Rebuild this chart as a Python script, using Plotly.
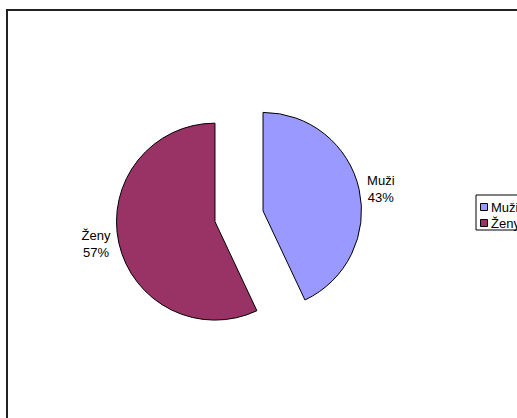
import plotly.graph_objects as go

labels = ["Muži", "Ženy"]
values = [43, 57]
colors = ["#9999FF", "#993366"]

W, H = 517, 418

def px_x(x):
    return x / W

def px_y(y):
    return (H - y) / H

fig = go.Figure(
    go.Pie(
        labels=labels,
        values=values,
        sort=False,
        direction="clockwise",
        rotation=0,
        pull=[0.25, 0.25],
        marker=dict(colors=colors, line=dict(color="black", width=1)),
        textposition="outside",
        texttemplate="%{label}<br>%{percent:.0%}",
        textfont=dict(family="Liberation Sans, Arial", size=13, color="black"),
        domain=dict(x=[px_x(115.9), px_x(362.1)], y=[px_y(339.4), px_y(93.1)]),
        showlegend=False,
        hoverinfo="none",
    )
)

# chart area border (extends past the right and bottom edges, as in the reference)
fig.add_shape(
    type="rect", xref="paper", yref="paper",
    x0=px_x(7), x1=px_x(530), y0=px_y(430), y1=px_y(10),
    line=dict(color="#222222", width=2), fillcolor="rgba(0,0,0,0)",
)

# legend box (cut off at the right edge like the reference)
fig.add_shape(
    type="rect", xref="paper", yref="paper",
    x0=px_x(476), x1=px_x(540), y0=px_y(230), y1=px_y(195),
    line=dict(color="black", width=1), fillcolor="white",
)
item_y = [207, 223]
for lab, col, yy in zip(labels, colors, item_y):
    fig.add_shape(
        type="rect", xref="paper", yref="paper",
        x0=px_x(480.5), x1=px_x(487.5), y0=px_y(yy + 3.5), y1=px_y(yy - 3.5),
        line=dict(color="black", width=1), fillcolor=col,
    )
    fig.add_annotation(
        x=px_x(489), y=px_y(yy), xref="paper", yref="paper",
        text=lab, showarrow=False, xanchor="left", yanchor="middle",
        font=dict(family="Liberation Sans, Arial", size=13, color="black"),
    )

fig.update_layout(
    width=W, height=H,
    margin=dict(l=0, r=0, t=0, b=0, autoexpand=False),
    paper_bgcolor="white",
    plot_bgcolor="white",
    font=dict(family="Liberation Sans, Arial", size=13, color="black"),
    showlegend=False,
)

fig.write_html(
    "out.html",
    config={"displayModeBar": False},
    post_script="document.body.style.margin='0';document.body.style.overflow='hidden';",
)
